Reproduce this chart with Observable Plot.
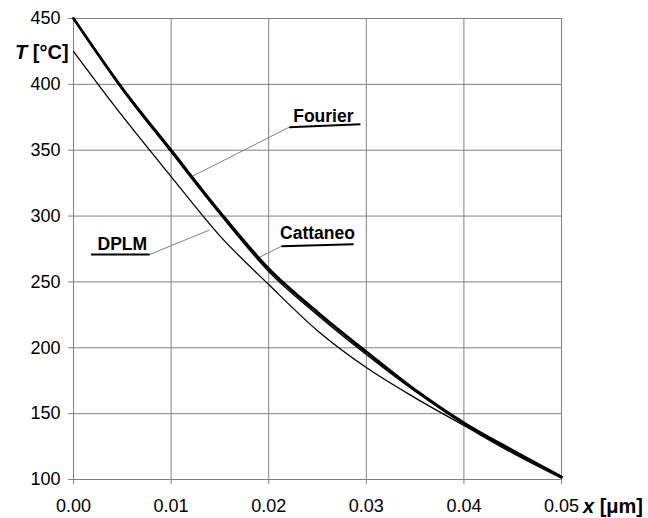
<!DOCTYPE html>
<html>
<head>
<meta charset="utf-8">
<script src="https://cdn.jsdelivr.net/npm/d3@7"></script>
<script src="https://cdn.jsdelivr.net/npm/@observablehq/plot@0.6"></script>
<style>
  html, body { margin: 0; padding: 0; background: #fff; }
  #chart { width: 648px; height: 518px; }
</style>
</head>
<body>
<div id="chart"></div>
<script>
// ---- data ----
const xValues  = [0, 0.005, 0.01, 0.015, 0.02, 0.025, 0.03, 0.035, 0.04, 0.045, 0.05];
const fourier  = [450, 397, 350, 303, 260, 227, 197, 168, 143, 122, 102];
const cattaneo = [450, 396, 348.5, 301.5, 258, 225, 195, 167, 142, 121, 102];
const dplm     = [425, 376, 330, 285, 248, 213, 185, 162, 141, 120, 101];

const xTicks = [0, 0.01, 0.02, 0.03, 0.04, 0.05];
const xTickLabels = ["0.00", "0.01", "0.02", "0.03", "0.04", "0.05"];
const yTicks = [100, 150, 200, 250, 300, 350, 400, 450];

// annotation labels: text anchor, underline, and leader line to curve
const labelNames = ["Fourier", "Cattaneo", "DPLM"];
const labelX     = [0.0256, 0.0250, 0.0050];
const labelY     = [371.6, 282.4, 274.1];
const ulX1 = [0.0221, 0.0213, 0.0018];
const ulY1 = [367.5, 277.1, 270.8];
const ulX2 = [0.0294, 0.0287, 0.0078];
const ulY2 = [369.8, 278.6, 270.8];
const leadX1 = [0.0221, 0.0213, 0.0078];
const leadY1 = [367.5, 277.1, 270.8];
const leadX2 = [0.0120, 0.0190, 0.0139];
const leadY2 = [329.5, 268.5, 289.3];

// ---- build tables ----
const series = [
  {name: "Fourier", values: fourier, width: 2.8},
  {name: "Cattaneo", values: cattaneo, width: 1.4},
  {name: "DPLM", values: dplm, width: 1.3}
];
const labels = labelNames.map((n, i) => ({
  name: n, x: labelX[i], y: labelY[i],
  ux1: ulX1[i], uy1: ulY1[i], ux2: ulX2[i], uy2: ulY2[i],
  lx1: leadX1[i], ly1: leadY1[i], lx2: leadX2[i], ly2: leadY2[i]
}));

const gridColor = "#808080";
const fontStack = "'Liberation Sans', Arial, sans-serif";

const lineMarks = series.map(s =>
  Plot.line(xValues.map((x, i) => ({x, y: s.values[i]})), {
    x: "x", y: "y", stroke: "black", strokeWidth: s.width, curve: "monotone-x"
  })
);

const chart = Plot.plot({
  width: 648,
  height: 518,
  marginLeft: 73,
  marginRight: 87,
  marginTop: 18,
  marginBottom: 39,
  style: {fontFamily: fontStack, fontSize: "18px", color: "black", background: "white"},
  x: {domain: [0, 0.05]},
  y: {domain: [100, 450]},
  marks: [
    Plot.gridX(xTicks, {stroke: gridColor, strokeOpacity: 1, strokeWidth: 1}),
    Plot.gridY(yTicks, {stroke: gridColor, strokeOpacity: 1, strokeWidth: 1}),
    Plot.axisX(xTicks, {tickSize: 5, tickPadding: 15, stroke: gridColor, fill: "black",
      tickFormat: d => xTickLabels[xTicks.indexOf(d)], label: null, fontSize: 18}),
    Plot.axisY(yTicks, {tickSize: 5, tickPadding: 8, stroke: gridColor, fill: "black",
      label: null, fontSize: 18}),
    Plot.link(labels, {x1: "lx1", y1: "ly1", x2: "lx2", y2: "ly2", stroke: gridColor, strokeWidth: 1}),
    Plot.link(labels, {x1: "ux1", y1: "uy1", x2: "ux2", y2: "uy2", stroke: "black", strokeWidth: 2}),
    Plot.text(labels, {x: "x", y: "y", text: "name", fontWeight: "bold", fontSize: 17.5,
      textAnchor: "middle", lineAnchor: "bottom", fill: "black"}),
    ...lineMarks
  ]
});

document.getElementById("chart").appendChild(chart);

// axis titles with italic variable names
const svg = d3.select(chart);
const yt = svg.append("text")
  .attr("x", 15).attr("y", 58.5)
  .attr("text-anchor", "start")
  .attr("font-family", fontStack)
  .attr("font-size", 20).attr("font-weight", "bold").attr("fill", "black");
yt.append("tspan").attr("font-style", "italic").text("T");
yt.append("tspan").text(" [°C]");

const xt = svg.append("text")
  .attr("x", 583).attr("y", 512.5)
  .attr("text-anchor", "start")
  .attr("font-family", fontStack)
  .attr("font-size", 20).attr("font-weight", "bold").attr("fill", "black");
xt.append("tspan").attr("font-style", "italic").text("x");
xt.append("tspan").text(" [μm]");
</script>
</body>
</html>
